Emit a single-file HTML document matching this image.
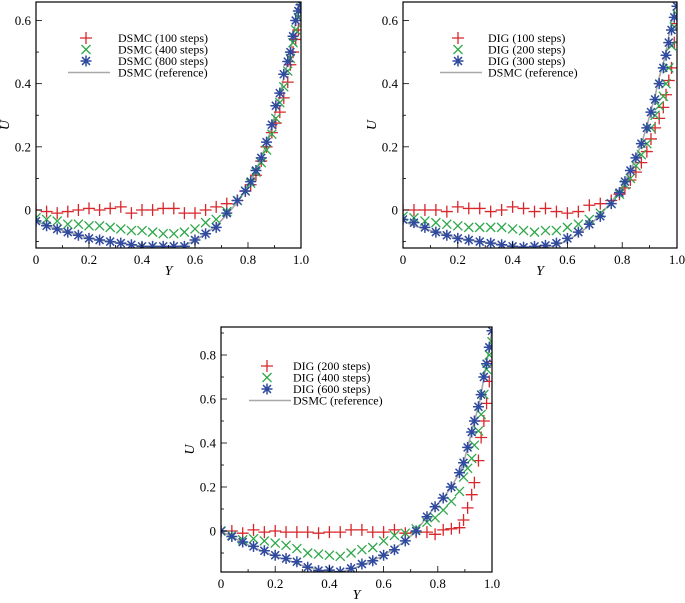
<!DOCTYPE html>
<html><head><meta charset="utf-8">
<style>
html,body{margin:0;padding:0;background:#fff;}
svg{display:block;font-family:"Liberation Serif",serif;}
</style></head>
<body>
<svg id="fig" width="685" height="603" viewBox="0 0 685 603" xmlns="http://www.w3.org/2000/svg"></svg>
<script>
// ---------- Panel A data ----------
const xA = [0,0.04,0.08,0.12,0.16,0.2,0.24,0.28,0.32,0.36,0.4,0.44,0.48,0.52,0.56,0.6,0.64,0.68,0.72,0.76,0.79,0.81,0.83,0.85,0.87,0.89,0.905,0.92,0.935,0.95,0.96,0.97,0.98,0.99,1.0];
const a100 = [0,-0.005,-0.01,-0.005,0,0.005,0,0.005,0.01,-0.01,0,0,0.005,0.005,-0.01,-0.01,0,0.01,0.02,0.03,0.06,0.08,0.11,0.155,0.2,0.245,0.275,0.31,0.355,0.405,0.46,0.5,0.54,0.57,0.6];
const a400 = [-0.025,-0.03,-0.035,-0.045,-0.045,-0.05,-0.05,-0.055,-0.06,-0.065,-0.065,-0.07,-0.075,-0.075,-0.07,-0.06,-0.04,-0.03,-0.005,0.03,0.06,0.085,0.12,0.15,0.19,0.24,0.29,0.34,0.39,0.44,0.48,0.53,0.57,0.61,0.64];
const a800 = [-0.035,-0.05,-0.06,-0.07,-0.08,-0.09,-0.095,-0.1,-0.105,-0.11,-0.115,-0.115,-0.115,-0.115,-0.115,-0.095,-0.075,-0.055,-0.01,0.03,0.06,0.09,0.125,0.165,0.215,0.27,0.33,0.37,0.43,0.47,0.5,0.55,0.6,0.63,0.65];
const aRef = [-0.035,-0.05,-0.06,-0.07,-0.08,-0.09,-0.095,-0.1,-0.105,-0.11,-0.115,-0.117,-0.118,-0.117,-0.112,-0.097,-0.075,-0.05,-0.015,0.025,0.06,0.09,0.125,0.165,0.21,0.265,0.315,0.36,0.42,0.465,0.5,0.55,0.595,0.63,0.66];
// ---------- Panel B data ----------
const xB = xA;
const b100 = [0,0,0,0,-0.005,0.01,0.005,0.005,-0.005,0,0.01,0.005,-0.005,0.005,-0.005,-0.01,-0.005,0.015,0.02,0.03,0.05,0.07,0.095,0.12,0.15,0.185,0.225,0.26,0.29,0.325,0.365,0.41,0.45,0.53,0.59];
const b200 = [-0.02,-0.025,-0.035,-0.04,-0.045,-0.05,-0.055,-0.055,-0.055,-0.055,-0.06,-0.065,-0.07,-0.065,-0.065,-0.055,-0.045,-0.03,-0.01,0.02,0.05,0.08,0.1,0.14,0.175,0.21,0.26,0.3,0.33,0.36,0.4,0.45,0.52,0.58,0.62];
const b300 = [-0.03,-0.04,-0.055,-0.07,-0.08,-0.09,-0.095,-0.1,-0.105,-0.11,-0.115,-0.118,-0.115,-0.112,-0.105,-0.09,-0.07,-0.045,-0.02,0.02,0.055,0.09,0.125,0.165,0.21,0.26,0.31,0.35,0.4,0.45,0.49,0.53,0.57,0.61,0.645];
const bRef = aRef;
// ---------- Panel C data ----------
const xC = [0,0.04,0.08,0.12,0.16,0.2,0.24,0.28,0.32,0.36,0.4,0.44,0.48,0.52,0.56,0.6,0.64,0.68,0.72,0.76,0.79,0.82,0.85,0.88,0.895,0.91,0.925,0.935,0.95,0.96,0.97,0.98,0.99,1.0];
const c200 = [0,0,-0.01,0.005,-0.005,0,-0.005,-0.005,-0.005,-0.01,-0.005,-0.005,0.005,0.005,-0.005,-0.005,0.005,-0.01,-0.005,-0.005,-0.015,0.005,0.01,0.015,0.05,0.105,0.165,0.22,0.32,0.425,0.5,0.58,0.68,0.77];
const c400 = [0,-0.02,-0.04,-0.035,-0.045,-0.055,-0.065,-0.08,-0.1,-0.105,-0.11,-0.115,-0.1,-0.085,-0.075,-0.045,-0.02,-0.01,0.01,0.04,0.06,0.095,0.135,0.18,0.245,0.285,0.33,0.39,0.455,0.53,0.62,0.735,0.8,0.86];
const c600 = [0,-0.025,-0.05,-0.07,-0.09,-0.11,-0.125,-0.14,-0.165,-0.18,-0.178,-0.185,-0.17,-0.15,-0.135,-0.11,-0.085,-0.045,0,0.065,0.11,0.15,0.2,0.265,0.31,0.38,0.45,0.5,0.565,0.62,0.7,0.76,0.835,0.91];
const cRef = [0,-0.027,-0.052,-0.075,-0.095,-0.115,-0.13,-0.148,-0.165,-0.177,-0.183,-0.185,-0.175,-0.155,-0.135,-0.11,-0.08,-0.045,0,0.065,0.11,0.15,0.2,0.265,0.31,0.38,0.45,0.5,0.565,0.62,0.7,0.76,0.835,0.91];

const yTicksAB = [0,0.2,0.4,0.6];
const yTickLabAB = ["0","0.2","0.4","0.6"];
const yTicksC = [0,0.2,0.4,0.6,0.8];
const yTickLabC = ["0","0.2","0.4","0.6","0.8"];
const xTicks = [0,0.2,0.4,0.6,0.8,1.0];
const xTickLab = ["0","0.2","0.4","0.6","0.8","1.0"];

const NS="http://www.w3.org/2000/svg";
const svg=document.getElementById('fig');
function mk(tag,attrs,parent){const e=document.createElementNS(NS,tag);for(const k in attrs)e.setAttribute(k,attrs[k]);(parent||svg).appendChild(e);return e;}

const RED="#d8262b",GREEN="#2fa84a",BLUE="#2f4a9e",GRAY="#a8a8a8";

function plus(g,cx,cy){const s=6;
  mk('path',{d:`M${cx-s} ${cy}H${cx+s}M${cx} ${cy-s}V${cy+s}`,stroke:RED,'stroke-width':1.3,fill:'none'},g);}
function cross(g,cx,cy){const s=4.5;
  mk('path',{d:`M${cx-s} ${cy-s}L${cx+s} ${cy+s}M${cx-s} ${cy+s}L${cx+s} ${cy-s}`,stroke:GREEN,'stroke-width':1.3,fill:'none'},g);}
function star(g,cx,cy){const s=5.5,d=s*0.72;
  mk('path',{d:`M${cx-s} ${cy}H${cx+s}M${cx} ${cy-s}V${cy+s}M${cx-d} ${cy-d}L${cx+d} ${cy+d}M${cx-d} ${cy+d}L${cx+d} ${cy-d}`,stroke:BLUE,'stroke-width':1.5,fill:'none'},g);}

function panel(p){
  const g=mk('g',{});
  
  
  const X=v=>p.L+(v-0)*(p.R-p.L);
  const Y=v=>p.y0+(v*(p.y1px-p.y0)/p.y1val);
  const ymin=(p.B-p.y0)/((p.y1px-p.y0)/p.y1val);
  const cid='clip'+p.name;
  const cp=mk('clipPath',{id:cid},g);mk('rect',{x:p.L,y:p.T,width:p.R-p.L,height:p.B-p.T},cp);
  const refG=mk('g',{'clip-path':`url(#${cid})`},g);
  const ref=mk('polyline',{points:p.x.map((v,i)=>X(v)+','+Y(p.ref[i])).join(' '),fill:'none',stroke:GRAY,'stroke-width':1.6},refG);
  
  
  const fns=[plus,cross,star];
  p.series.forEach((s,k)=>{
    const sg=mk('g',{'clip-path':`url(#${cid})`},g);
    
    
    s.data.forEach((v,i)=>{fns[k](sg,X(p.x[i]),Y(v));});
  });
  const fr=mk('rect',{x:p.L,y:p.T,width:p.R-p.L,height:p.B-p.T,fill:'none',stroke:'#000','stroke-width':1.2},g);
  
  
  const step=0.1;
  for(let v=Math.ceil(ymin/step)*step; v<=p.ymax+1e-9; v+=step){
    const yy=Y(v); if(yy<p.T||yy>p.B)continue;
    const major=Math.abs(Math.round(v*10)%2)===0;
    mk('line',{x1:p.L,x2:p.L+(major?6:3),y1:yy,y2:yy,stroke:'#000','stroke-width':0.8},g);
  }
  p.yt.forEach((v,i)=>{const t=mk('text',{x:p.L-5,y:Y(v)+4.5,'text-anchor':'end','font-size':13},g);t.textContent=p.ytl[i];
    });
  for(let v=0;v<=1.0001;v+=0.1){const major=Math.round(v*10)%2===0;
    mk('line',{x1:X(v),x2:X(v),y1:p.B,y2:p.B-(major?6:3),stroke:'#000','stroke-width':0.8},g);}
  xTicks.forEach((v,i)=>{const t=mk('text',{x:X(v),y:p.B+16,'text-anchor':'middle','font-size':13},g);t.textContent=xTickLab[i];
    });
  const xl=mk('text',{x:(p.L+p.R)/2,y:p.B+27,'text-anchor':'middle','font-size':14,'font-style':'italic'},g);xl.textContent='Y';
  
  const yx=p.L-27, yy=(p.T+p.B)/2;
  const yl=mk('text',{x:yx,y:yy,'text-anchor':'middle','font-size':14,'font-style':'italic',transform:`rotate(-90 ${yx} ${yy})`},g);yl.textContent='U';
  
  const lg=mk('g',{},g);
  
  
  const labels=p.series.map(s=>s.label).concat(['DSMC (reference)']);
  labels.forEach((lab,i)=>{
    const ly=p.legY+i*11.5;
    if(i<3)fns[i](lg,p.legMX,ly);else mk('line',{x1:p.legMX-18,x2:p.legMX+24,y1:ly,y2:ly,stroke:GRAY,'stroke-width':1.6},lg);
    const t=mk('text',{x:p.legTX,y:ly+4,'font-size':12},lg);t.textContent=lab;
    
  });
}

panel({name:'panel-dsmc',L:36,R:301,T:2,B:248,y0:210,y1px:20.5,y1val:0.6,ymax:0.66,x:xA,ref:aRef,
  series:[{label:'DSMC (100 steps)',data:a100},{label:'DSMC (400 steps)',data:a400},{label:'DSMC (800 steps)',data:a800}],
  yt:yTicksAB,ytl:yTickLabAB,legY:38,legMX:86,legTX:118});
panel({name:'panel-dig-a',L:403,R:677,T:2,B:248,y0:210,y1px:20.5,y1val:0.6,ymax:0.66,x:xB,ref:bRef,
  series:[{label:'DIG (100 steps)',data:b100},{label:'DIG (200 steps)',data:b200},{label:'DIG (300 steps)',data:b300}],
  yt:yTicksAB,ytl:yTickLabAB,legY:38,legMX:458,legTX:488});
panel({name:'panel-dig-b',L:221,R:492,T:327,B:572,y0:531,y1px:355,y1val:0.8,ymax:0.93,x:xC,ref:cRef,
  series:[{label:'DIG (200 steps)',data:c200},{label:'DIG (400 steps)',data:c400},{label:'DIG (600 steps)',data:c600}],
  yt:yTicksC,ytl:yTickLabC,legY:366,legMX:267,legTX:293});
</script>
</body></html>
